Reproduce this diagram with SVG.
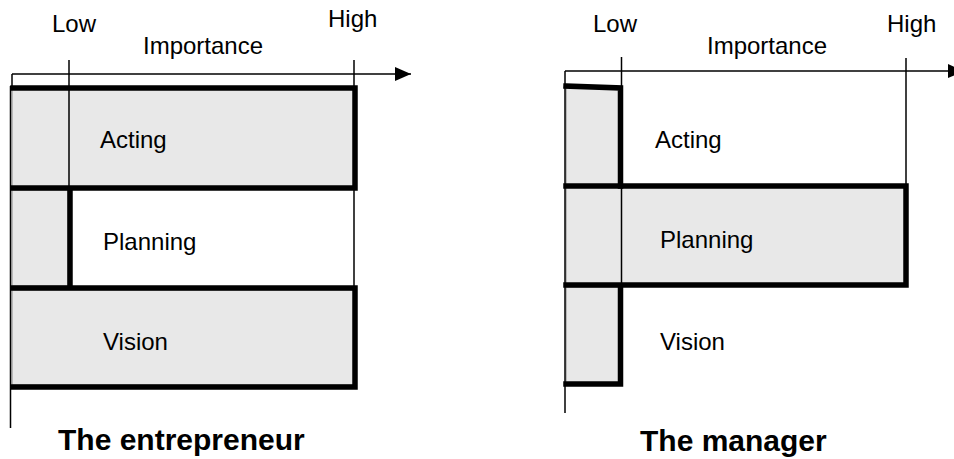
<svg xmlns="http://www.w3.org/2000/svg" width="954" height="459" viewBox="0 0 954 459">
<defs>
<style>
.lbl{font-family:"Liberation Sans",Arial,sans-serif;font-size:24px;fill:#000}
.ttl{font-family:"Liberation Sans",Arial,sans-serif;font-size:30px;font-weight:bold;fill:#000}
.fill{fill:#e8e8e8;stroke:#888;stroke-width:1}
.thin{stroke:#000;stroke-width:1.5;fill:none}
.thick{stroke:#000;stroke-width:5.5;fill:none;stroke-linecap:square}
</style>
<marker id="ah" markerWidth="16" markerHeight="14" refX="16" refY="7" orient="auto" markerUnits="userSpaceOnUse">
<path d="M0,0 L16,7 L0,14 Z" fill="#000"/>
</marker>
</defs>
<rect width="954" height="459" fill="#fff"/>

<g id="entrepreneur">
<g id="e-acting">
<rect class="fill" x="12" y="88" width="342" height="100"/>
<text class="lbl" x="100" y="148">Acting</text>
</g>
<g id="e-planning">
<rect class="fill" x="12" y="190" width="56" height="96"/>
<text class="lbl" x="103" y="250">Planning</text>
</g>
<g id="e-vision">
<rect class="fill" x="12" y="290" width="342" height="95"/>
<text class="lbl" x="103" y="350">Vision</text>
</g>
<g id="e-axis">
<line class="thin" x1="12" y1="74" x2="411" y2="74" marker-end="url(#ah)"/>
<line class="thin" x1="12" y1="74" x2="12" y2="88"/>
<line class="thin" x1="10.5" y1="86" x2="10.5" y2="428"/>
<line class="thin" x1="69" y1="60" x2="69" y2="188"/>
<line class="thin" x1="354" y1="60" x2="354" y2="288"/>
<text class="lbl" x="52" y="32">Low</text>
<text class="lbl" x="143" y="54">Importance</text>
<text class="lbl" x="328" y="27">High</text>
</g>
<g id="e-borders">
<polyline class="thick" points="13,88 355,88 355,188 13,188"/>
<line class="thick" x1="70" y1="190" x2="70" y2="286"/>
<polyline class="thick" points="13,288 355,288 355,387 13,387"/>
</g>
<text class="ttl" x="58" y="450">The entrepreneur</text>
</g>

<g id="manager">
<g id="m-acting">
<rect class="fill" x="566" y="87" width="54" height="98"/>
<text class="lbl" x="655" y="148">Acting</text>
</g>
<g id="m-planning">
<rect class="fill" x="566" y="187" width="339" height="97"/>
<text class="lbl" x="660" y="248">Planning</text>
</g>
<g id="m-vision">
<rect class="fill" x="566" y="287" width="54" height="96"/>
<text class="lbl" x="660" y="350">Vision</text>
</g>
<g id="m-axis">
<line class="thin" x1="565" y1="71" x2="964" y2="71" marker-end="url(#ah)"/>
<line class="thin" x1="565" y1="71" x2="565" y2="413"/>
<line class="thin" x1="621.5" y1="57" x2="621.5" y2="287"/>
<line class="thin" x1="906" y1="58" x2="906" y2="186"/>
<text class="lbl" x="593" y="32">Low</text>
<text class="lbl" x="707" y="54">Importance</text>
<text class="lbl" x="887" y="32">High</text>
</g>
<g id="m-borders">
<polyline class="thick" points="566,86 620.5,88 620.5,186"/>
<polyline class="thick" points="566,186 906,186 906,285 566,285"/>
<polyline class="thick" points="620.5,287 620.5,384 566,384"/>
</g>
<text class="ttl" x="640" y="451">The manager</text>
</g>
</svg>
